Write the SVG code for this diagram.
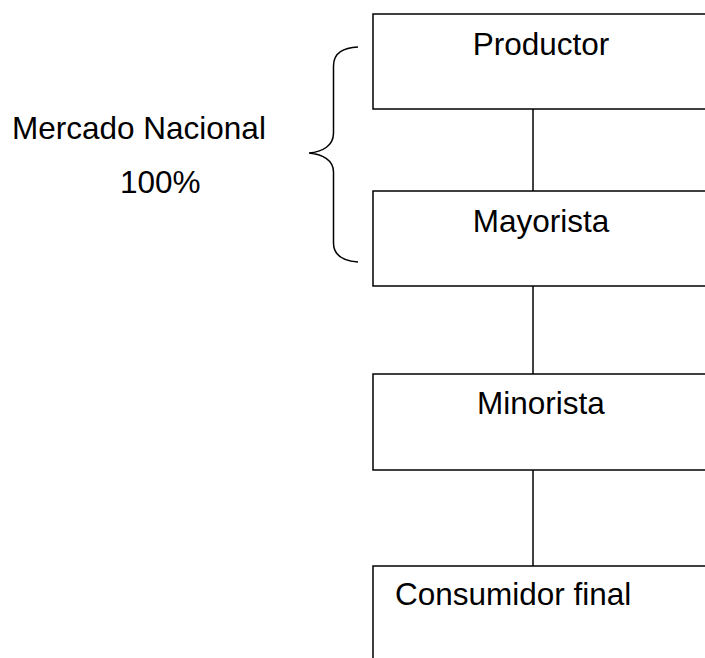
<svg xmlns="http://www.w3.org/2000/svg" width="705" height="658" viewBox="0 0 705 658">
<style>
.box{fill:#fff;stroke:#000;stroke-width:1.5}
.ln{fill:none;stroke:#000;stroke-width:1.5}
text{font-family:"Liberation Sans",Arial,sans-serif;font-size:31.5px;fill:#000}
</style>
<rect width="705" height="658" fill="#fff"/>
<g id="connectors">
<line class="ln" x1="533" y1="109" x2="533" y2="191"/>
<line class="ln" x1="533" y1="286" x2="533" y2="374"/>
<line class="ln" x1="533" y1="470" x2="533" y2="566"/>
</g>
<g id="productor"><rect class="box" x="373" y="14" width="340" height="95"/><text x="541" y="55" text-anchor="middle">Productor</text></g>
<g id="mayorista"><rect class="box" x="373" y="191" width="340" height="95"/><text x="541" y="232" text-anchor="middle">Mayorista</text></g>
<g id="minorista"><rect class="box" x="373" y="374" width="340" height="96"/><text x="541" y="414" text-anchor="middle">Minorista</text></g>
<g id="consumidor"><rect class="box" x="373" y="566" width="340" height="100"/><text x="395" y="605">Consumidor final</text></g>
<g id="brace">
<path class="ln" d="M358,47 C344,48 333.5,52 333.5,66 L333.5,133 C333.5,146 322,152 309,153 C322,154 333.5,160 333.5,172 L333.5,243 C333.5,256 344,261 358,262"/>
</g>
<g id="label">
<text x="12" y="139">Mercado Nacional</text>
<text x="120" y="193">100%</text>
</g>
</svg>
